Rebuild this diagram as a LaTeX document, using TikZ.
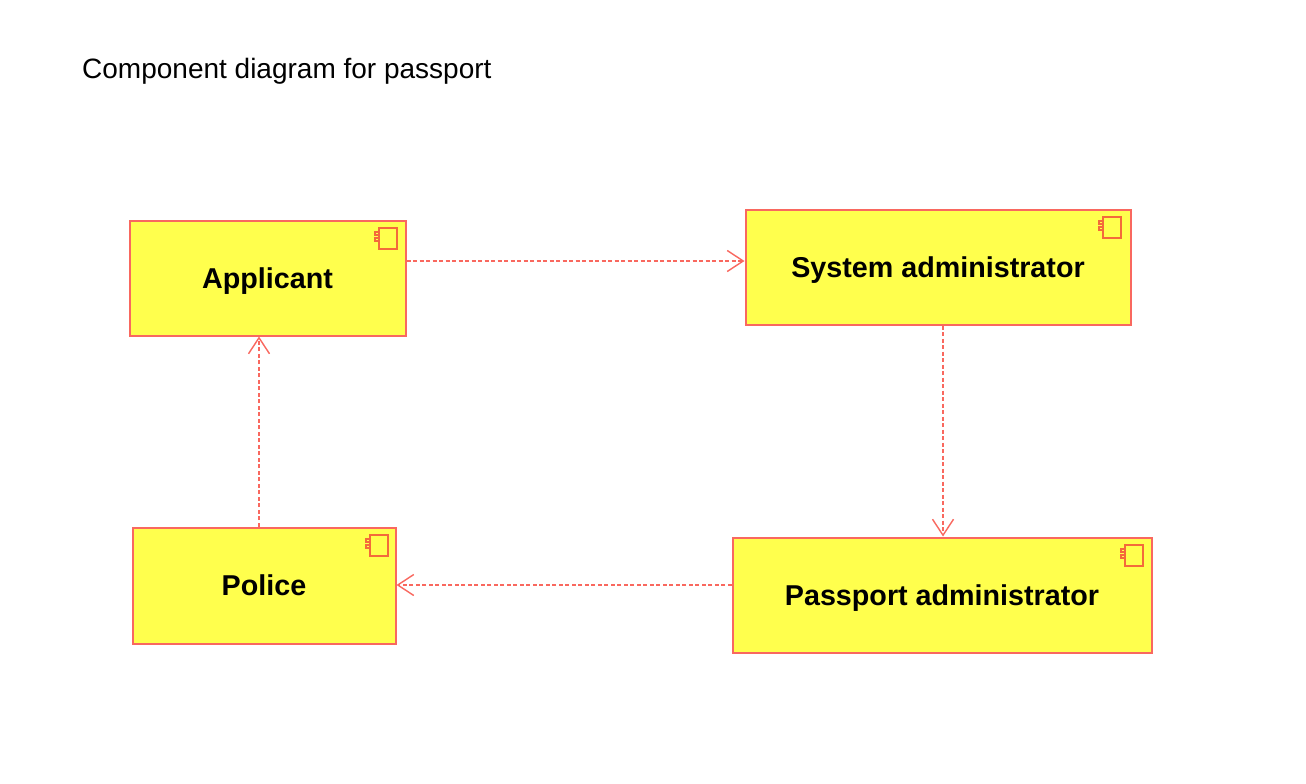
\documentclass[tikz,border=0pt]{standalone}
\usepackage{fontspec}
\setmainfont{Liberation Sans}
\usetikzlibrary{arrows.meta}
\definecolor{umlline}{HTML}{F9685F}
\definecolor{umlicon}{HTML}{F46A3A}
\definecolor{umlfill}{HTML}{FFFF4D}
\tikzset{
  x=1pt,y=-1pt,
  comp/.style={draw=umlline,fill=umlfill,line width=2pt,inner sep=0pt,text height=20pt,text depth=0pt,font=\fontsize{28.7}{30}\selectfont\bfseries,text=black},
  dep/.style={draw=umlline,line width=1.4pt,dash pattern=on 4pt off 2.5pt,-{Straight Barb[length=16pt,width=21pt,line width=1.4pt]}},
  icon/.style={draw=umlicon,line width=2pt,fill=umlfill}
}
\newcommand{\compicon}[2]{%
  \draw[icon] (#1,#2+4.5) rectangle (#1+5,#2+8);
  \draw[icon] (#1,#2+10.5) rectangle (#1+5,#2+14);
  \draw[icon] (#1+3.5,#2+.5) rectangle (#1+22,#2+21.5);
}
\begin{document}
\begin{tikzpicture}
\useasboundingbox (0,0) rectangle (1306,784);
\fill[white] (0,0) rectangle (1306,784);
\node[anchor=west,inner sep=0pt,font=\fontsize{28}{30}\selectfont] (title) at (82,71.5) {Component diagram for passport};
\node[comp,minimum width=276pt,minimum height=115pt] (app) at (267.5,278) {Applicant};
\node[comp,minimum width=385pt,minimum height=115pt] (sys) at (938,267) {System administrator};
\node[comp,minimum width=419pt,minimum height=115pt] (pass) at (942,595) {Passport administrator};
\node[comp,minimum width=263pt,minimum height=116pt] (pol) at (264,585.5) {Police};
\compicon{375}{227}
\compicon{1099}{216}
\compicon{1121}{544}
\compicon{366}{534}
\draw[dep] ([yshift=17pt]app.east) -- ([yshift=6pt]sys.west);
\draw[dep] ([xshift=5pt]sys.south) -- ([xshift=1pt]pass.north);
\draw[dep] ([yshift=10pt]pass.west) -- ([yshift=.5pt]pol.east);
\draw[dep] ([xshift=-5pt]pol.north) -- ([xshift=-8.5pt]app.south);
\end{tikzpicture}
\end{document}
